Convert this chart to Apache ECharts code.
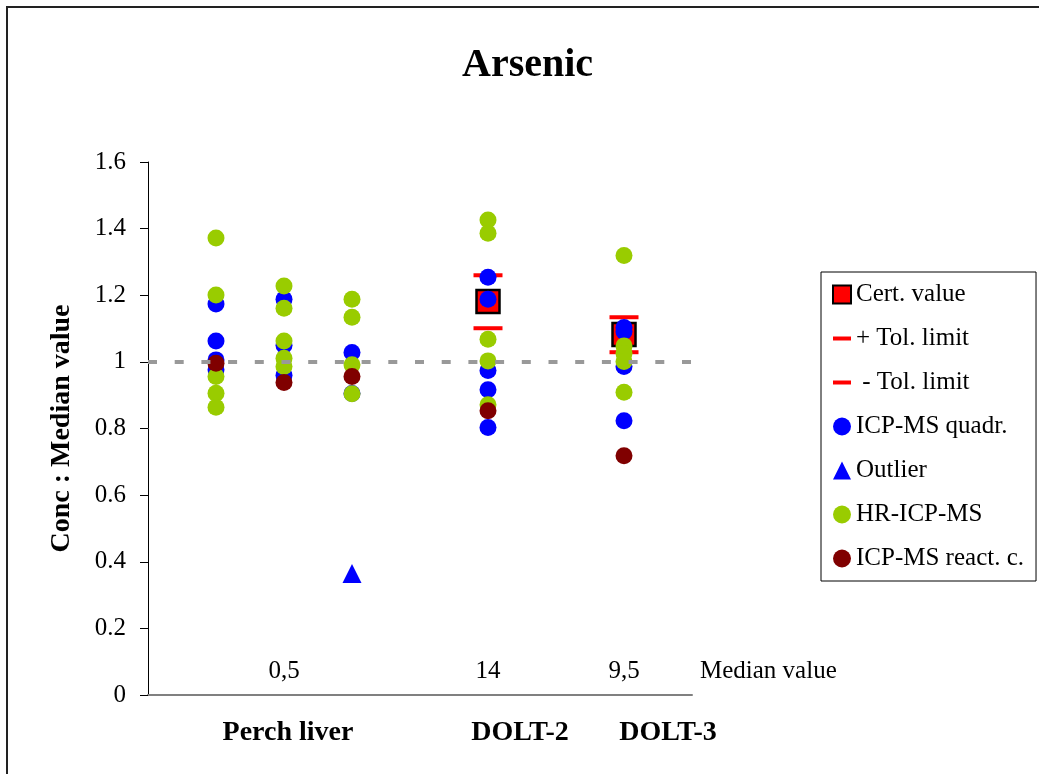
<!DOCTYPE html>
<html>
<head>
<meta charset="utf-8">
<script src="https://cdn.jsdelivr.net/npm/echarts@6/dist/echarts.min.js"></script>
<style>
  html, body { margin: 0; padding: 0; background: #ffffff; }
  #chart { width: 1039px; height: 774px; }
</style>
</head>
<body>
<div id="chart"></div>
<script>
// ---- data ----
const samples = ['Perch liver', 'DOLT-2', 'DOLT-3'];
const medianValues = ['0,5', '14', '9,5'];
const sampleX = [2, 5, 7];              // x of the column each median label sits over
const columnX = [1, 2, 3, 5, 7];        // x of each measurement column

// Concentration / median value, one inner list per column
const quadr = [
  [1.174, 1.063, 1.006, 0.976],
  [1.188, 1.050, 0.960],
  [1.028, 0.905],
  [1.254, 1.188, 0.974, 0.916, 0.803],
  [1.103, 1.091, 0.986, 0.823]
];
const hrIcp = [
  [1.372, 1.201, 0.956, 0.906, 0.864],
  [1.228, 1.161, 1.063, 1.011, 0.986],
  [1.188, 1.134, 0.991, 0.904],
  [1.426, 1.386, 1.068, 1.003, 0.871],
  [1.319, 1.048, 1.026, 1.001, 0.909]
];
const reactCell = [[0.996], [0.938], [0.956], [0.853], [0.718]];
const outlierX = [3];
const outlierValue = [0.365];

const certX = [5, 7];
const certValue = [1.181, 1.082];
const tolPlus = [1.260, 1.134];
const tolMinus = [1.101, 1.029];

const yMin = 0, yMax = 1.6, yStep = 0.2;
const xMin = 0, xMax = 8;

// ---- helpers ----
const flatten = (cols) => columnX.flatMap((x, i) => cols[i].map(v => [x, v]));
const pairs = (xs, ys) => xs.map((x, i) => [x, ys[i]]);

const serif = "'Liberation Serif', 'Times New Roman', serif";
const medianRowY = 0.07;

const chart = echarts.init(document.getElementById('chart'), null, { renderer: 'canvas' });

const medianLabelData = sampleX.map((x, i) => ({ value: [x, medianRowY], label: { formatter: medianValues[i] } }));
medianLabelData.push({
  value: [xMax, medianRowY],
  label: { formatter: 'Median value', position: 'right', distance: 8 }
});

const tolIcon = 'path://M0,0M0,7h18v4h-18zM18,18';

chart.setOption({
  animation: false,
  backgroundColor: '#ffffff',
  textStyle: { fontFamily: serif },
  title: {
    text: 'Arsenic',
    left: 462,
    top: 46,
    padding: 0,
    textStyle: { fontFamily: serif, fontWeight: 'bold', fontSize: 40, color: '#000' }
  },
  grid: { left: 148, right: 347, top: 162, bottom: 79, containLabel: false },
  legend: {
    orient: 'vertical',
    left: 821,
    top: 272,
    padding: [10, 12, 10, 11],
    itemGap: 19,
    itemWidth: 18,
    itemHeight: 18,
    borderColor: '#000',
    borderWidth: 1,
    borderRadius: 0,
    selectedMode: false,
    textStyle: { fontFamily: serif, fontSize: 25, color: '#000', padding: [0, 0, 0, 0] },
    data: [
      { name: 'Cert. value', icon: 'rect' },
      { name: '+ Tol. limit', icon: tolIcon },
      { name: ' - Tol. limit', icon: tolIcon },
      { name: 'ICP-MS quadr.', icon: 'circle' },
      { name: 'Outlier', icon: 'triangle' },
      { name: 'HR-ICP-MS', icon: 'circle' },
      { name: 'ICP-MS react. c.', icon: 'circle' }
    ]
  },
  xAxis: {
    type: 'value',
    min: xMin,
    max: xMax,
    axisLine: { show: true, lineStyle: { color: '#808080', width: 2 } },
    axisTick: { show: false },
    axisLabel: { show: false },
    splitLine: { show: false }
  },
  yAxis: {
    type: 'value',
    min: yMin,
    max: yMax,
    interval: yStep,
    name: 'Conc : Median value',
    nameLocation: 'middle',
    nameGap: 72,
    nameTextStyle: { fontFamily: serif, fontWeight: 'bold', fontSize: 28, color: '#000' },
    axisLine: { show: true, lineStyle: { color: '#000', width: 1 } },
    axisTick: { show: true, inside: false, length: 8, lineStyle: { color: '#000', width: 1 } },
    axisLabel: { margin: 22, fontFamily: serif, fontSize: 25, color: '#000' },
    splitLine: { show: false }
  },
  series: [
    {
      name: 'Cert. value',
      type: 'scatter',
      symbol: 'rect',
      symbolSize: 23,
      itemStyle: { color: '#ff0000', borderColor: '#000', borderWidth: 2.5, opacity: 1 },
      data: pairs(certX, certValue),
      markLine: {
        silent: true,
        symbol: 'none',
        label: { show: false },
        lineStyle: { color: '#999999', width: 4, type: [9, 17.7], opacity: 1 },
        data: [{ yAxis: 1 }]
      }
    },
    {
      name: '+ Tol. limit',
      type: 'scatter',
      symbol: 'rect',
      symbolSize: [29, 4],
      itemStyle: { color: '#ff0000', opacity: 1 },
      data: pairs(certX, tolPlus)
    },
    {
      name: ' - Tol. limit',
      type: 'scatter',
      symbol: 'rect',
      symbolSize: [29, 4],
      itemStyle: { color: '#ff0000', opacity: 1 },
      data: pairs(certX, tolMinus)
    },
    {
      name: 'ICP-MS quadr.',
      type: 'scatter',
      symbol: 'circle',
      symbolSize: 17,
      itemStyle: { color: '#0000ff', opacity: 1 },
      data: flatten(quadr)
    },
    {
      name: 'Outlier',
      type: 'scatter',
      symbol: 'triangle',
      symbolSize: [19, 19],
      itemStyle: { color: '#0000ff', opacity: 1 },
      data: pairs(outlierX, outlierValue)
    },
    {
      name: 'HR-ICP-MS',
      type: 'scatter',
      symbol: 'circle',
      symbolSize: 17,
      itemStyle: { color: '#99cc00', opacity: 1 },
      data: flatten(hrIcp)
    },
    {
      name: 'ICP-MS react. c.',
      type: 'scatter',
      symbol: 'circle',
      symbolSize: 17,
      itemStyle: { color: '#800000', opacity: 1 },
      data: flatten(reactCell)
    },
    {
      name: 'median',
      type: 'scatter',
      silent: true,
      clip: false,
      symbolSize: 0,
      itemStyle: { color: 'rgba(0,0,0,0)', opacity: 1 },
      label: {
        show: true,
        position: 'inside',
        fontFamily: serif,
        fontSize: 25,
        color: '#000',
        opacity: 1
      },
      data: medianLabelData
    }
  ]
});

// Sample names under the axis, plus the outer frame
const sampleLabelX = [288, 520, 668];
chart.setOption({
  graphic: [
    {
      type: 'rect',
      silent: true,
      shape: { x: 7, y: 7, width: 1100, height: 900 },
      style: { fill: 'none', stroke: '#222', lineWidth: 2 }
    }
  ].concat(samples.map((s, i) => ({
    type: 'text',
    silent: true,
    x: sampleLabelX[i],
    y: 733,
    style: {
      text: s,
      fontFamily: serif,
      fontWeight: 'bold',
      fontSize: 28,
      fill: '#000',
      textAlign: 'center',
      textVerticalAlign: 'middle'
    }
  })))
});
</script>
</body>
</html>
